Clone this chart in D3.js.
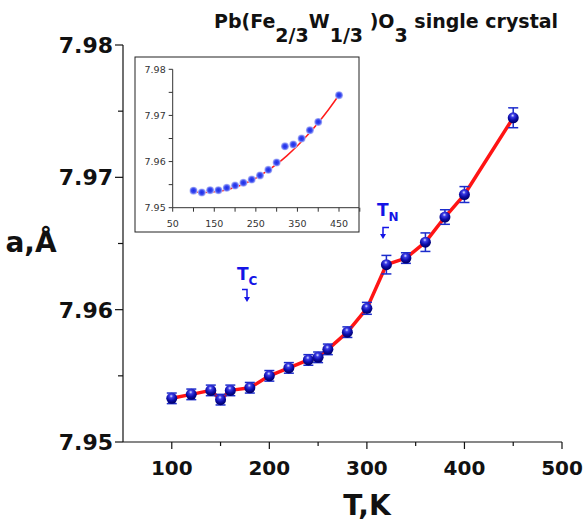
<!DOCTYPE html>
<html><head><meta charset="utf-8">
<script src="https://cdn.jsdelivr.net/npm/d3@7"></script>
<style>body{margin:0;background:#fff}svg{display:block}</style>
</head><body><svg id="chart" width="585" height="522"></svg>
<script>
// Lattice parameter a(T) of Pb(Fe2/3W1/3)O3 single crystal
const temps = [100,120,140,150,160,180,200,220,240,250,260,280,300,320,340,360,380,400,450];
const lattice = [7.9533,7.9536,7.9539,7.9532,7.9539,7.9541,7.9550,7.9556,7.9562,7.9564,7.9570,7.9583,7.9601,7.9634,7.9639,7.9651,7.9670,7.9687,7.9745];
const latticeErr = [0.0004,0.0004,0.0004,0.0004,0.0004,0.0004,0.0004,0.0004,0.0004,0.0004,0.0004,0.0004,0.00045,0.0007,0.0004,0.0007,0.00055,0.0006,0.00075];

// Inset: the same measurement with a smooth fit
const insetTemps = [100,120,140,160,180,200,220,240,260,280,300,320,340,360,380,400,450];
const insetLattice = [7.9537,7.9533,7.9538,7.9538,7.9543,7.9548,7.9554,7.9561,7.9570,7.9582,7.9598,7.9633,7.9637,7.9650,7.9668,7.9686,7.9744];
const fitTemps = [100,125,150,175,200,225,250,275,300,325,350,375,400,425,450];
const fitLattice = [7.95343,7.9533,7.95343,7.9538,7.95443,7.9553,7.95643,7.9578,7.95943,7.9613,7.96343,7.9658,7.96843,7.9713,7.97443];

const xTicks = [100,200,300,400,500];
const xMinorTicks = [150,250,350,450];
const yTicks = [7.95,7.96,7.97,7.98];
const yMinorTicks = [7.955,7.965,7.975];
const insetXTicks = [50,150,250,350,450];
const insetXMinorTicks = [100,200,300,400,500];
const insetYTicks = [7.95,7.96,7.97,7.98];
const insetYMinorTicks = [7.955,7.965,7.975];

const svg = d3.select("#chart");
const FONT = "'DejaVu Sans', Verdana, sans-serif";

const defs = svg.append("defs");
const g1 = defs.append("radialGradient").attr("id","ball").attr("cx","45%").attr("cy","30%").attr("r","65%");
g1.append("stop").attr("offset","0%").attr("stop-color","#dfe4ff");
g1.append("stop").attr("offset","25%").attr("stop-color","#3b3be6");
g1.append("stop").attr("offset","65%").attr("stop-color","#0c0ca6");
g1.append("stop").attr("offset","100%").attr("stop-color","#00006e");
const g2 = defs.append("radialGradient").attr("id","dot").attr("cx","50%").attr("cy","50%").attr("r","50%");
g2.append("stop").attr("offset","0%").attr("stop-color","#1a2ae6");
g2.append("stop").attr("offset","55%").attr("stop-color","#3a4af0");
g2.append("stop").attr("offset","100%").attr("stop-color","#b8bff8");

// ---- main plot ----
const x = d3.scaleLinear().domain([50,500]).range([123,562]);
const y = d3.scaleLinear().domain([7.95,7.98]).range([442,45]);

const axisColor = "#111";
// x axis
const xAxisG = svg.append("g").attr("transform",`translate(0,${y(7.95)})`);
xAxisG.append("line").attr("x1",x(50)).attr("x2",x(500)).attr("stroke",axisColor).attr("stroke-width",1.2);
xAxisG.selectAll(".xt").data(xTicks).join("line")
  .attr("x1",d=>x(d)).attr("x2",d=>x(d)).attr("y1",0).attr("y2",7).attr("stroke",axisColor).attr("stroke-width",1.2);
xAxisG.selectAll(".xm").data(xMinorTicks).join("line")
  .attr("x1",d=>x(d)).attr("x2",d=>x(d)).attr("y1",0).attr("y2",4).attr("stroke",axisColor).attr("stroke-width",1.2);
xAxisG.selectAll("text").data(xTicks).join("text")
  .attr("x",d=>x(d)).attr("y",33).attr("text-anchor","middle")
  .attr("font-family",FONT).attr("font-weight","bold").attr("font-size",20).attr("fill","#111")
  .text(d=>d);

// y axis
const yAxisG = svg.append("g").attr("transform",`translate(${x(50)},0)`);
yAxisG.append("line").attr("y1",y(7.95)).attr("y2",y(7.98)).attr("stroke",axisColor).attr("stroke-width",1.2);
yAxisG.selectAll(".yt").data(yTicks).join("line")
  .attr("y1",d=>y(d)).attr("y2",d=>y(d)).attr("x1",0).attr("x2",-8).attr("stroke",axisColor).attr("stroke-width",1.2);
yAxisG.selectAll(".ym").data(yMinorTicks).join("line")
  .attr("y1",d=>y(d)).attr("y2",d=>y(d)).attr("x1",0).attr("x2",-5).attr("stroke",axisColor).attr("stroke-width",1.2);
yAxisG.selectAll("text").data(yTicks).join("text")
  .attr("x",-10).attr("y",d=>y(d)+8).attr("text-anchor","end")
  .attr("font-family",FONT).attr("font-weight","bold").attr("font-size",22).attr("fill","#111")
  .text(d=>d.toFixed(2));

// axis titles
svg.append("text").attr("x",31).attr("y",252).attr("text-anchor","middle")
  .attr("font-family",FONT).attr("font-weight","bold").attr("font-size",28).attr("fill","#111").text("a,Å");
svg.append("text").attr("x",x(300)).attr("y",515).attr("text-anchor","middle")
  .attr("font-family",FONT).attr("font-weight","bold").attr("font-size",28).attr("fill","#111").text("T,K");

// title
const title = svg.append("text").attr("x",214).attr("y",28)
  .attr("font-family",FONT).attr("font-weight","bold").attr("font-size",19).attr("fill","#111");
title.append("tspan").text("Pb(Fe");
title.append("tspan").attr("dy",14).text("2/3");
title.append("tspan").attr("dy",-14).text("W");
title.append("tspan").attr("dy",14).text("1/3");
title.append("tspan").attr("dy",-14).text(" )O");
title.append("tspan").attr("dy",14).text("3");
title.append("tspan").attr("dy",-14).text(" single crystal");

const main = temps.map((t,i)=>({t, a:lattice[i], e:latticeErr[i]}));

// connecting line
svg.append("path").datum(main)
  .attr("d", d3.line().x(d=>x(d.t)).y(d=>y(d.a)))
  .attr("fill","none").attr("stroke","#ff1414").attr("stroke-width",3.5).attr("stroke-linejoin","round");

// error bars
const eb = svg.append("g").attr("stroke","#1c2ccc").attr("stroke-width",1.5);
eb.selectAll(".v").data(main).join("line")
  .attr("x1",d=>x(d.t)).attr("x2",d=>x(d.t)).attr("y1",d=>y(d.a-d.e)).attr("y2",d=>y(d.a+d.e));
eb.selectAll(".top").data(main).join("line")
  .attr("x1",d=>x(d.t)-5).attr("x2",d=>x(d.t)+5).attr("y1",d=>y(d.a+d.e)).attr("y2",d=>y(d.a+d.e));
eb.selectAll(".bot").data(main).join("line")
  .attr("x1",d=>x(d.t)-5).attr("x2",d=>x(d.t)+5).attr("y1",d=>y(d.a-d.e)).attr("y2",d=>y(d.a-d.e));

// points
svg.append("g").selectAll("circle").data(main).join("circle")
  .attr("cx",d=>x(d.t)).attr("cy",d=>y(d.a)).attr("r",5.5).attr("fill","url(#ball)");

// transition markers
const blue = "#1414e6";
function marker(label, sub, tx, ty, path, tipX, tipY){
  const t = svg.append("text").attr("x",tx).attr("y",ty)
    .attr("font-family",FONT).attr("font-weight","bold").attr("fill",blue);
  t.append("tspan").attr("font-size",17).text(label);
  t.append("tspan").attr("font-size",12).attr("dy",5).text(sub);
  svg.append("path").attr("d",path).attr("fill","none").attr("stroke",blue).attr("stroke-width",1.5);
  svg.append("path").attr("d",`M${tipX-3},${tipY-5} L${tipX+3},${tipY-5} L${tipX},${tipY} Z`).attr("fill",blue);
}
marker("T","C",237,280,"M242,289.5 H247 V297",247,302);
marker("T","N",377,216,"M389,227.5 H383 V234",383,239);

// ---- inset ----
const box = {x0:135, y0:57, x1:359, y1:232};
svg.append("rect").attr("x",box.x0).attr("y",box.y0).attr("width",box.x1-box.x0).attr("height",box.y1-box.y0)
  .attr("fill","#fff").attr("stroke","#222").attr("stroke-width",1);

const ix = d3.scaleLinear().domain([50,500]).range([172.7,359.8]);
const iy = d3.scaleLinear().domain([7.95,7.98]).range([207.7,69.3]);
const ins = svg.append("g");
const iax = "#333";
ins.append("line").attr("x1",ix(50)).attr("x2",box.x1).attr("y1",iy(7.95)).attr("y2",iy(7.95)).attr("stroke",iax);
ins.append("line").attr("x1",ix(50)).attr("x2",ix(50)).attr("y1",iy(7.95)).attr("y2",iy(7.98)).attr("stroke",iax);
ins.selectAll(".ixt").data(insetXTicks.concat(insetXMinorTicks)).join("line")
  .attr("x1",d=>ix(d)).attr("x2",d=>ix(d)).attr("y1",iy(7.95)).attr("y2",iy(7.95)+4).attr("stroke",iax);
ins.selectAll(".iyt").data(insetYTicks.concat(insetYMinorTicks)).join("line")
  .attr("x1",ix(50)-4).attr("x2",ix(50)).attr("y1",d=>iy(d)).attr("y2",d=>iy(d)).attr("stroke",iax);
ins.selectAll(".ixl").data(insetXTicks).join("text")
  .attr("x",d=>ix(d)).attr("y",iy(7.95)+19).attr("text-anchor","middle")
  .attr("font-family",FONT).attr("font-size",9.5).attr("fill","#333").text(d=>d);
ins.selectAll(".iyl").data(insetYTicks).join("text")
  .attr("x",ix(50)-7).attr("y",d=>iy(d)+3.5).attr("text-anchor","end")
  .attr("font-family",FONT).attr("font-size",9.5).attr("fill","#333").text(d=>d.toFixed(2));

const fit = fitTemps.map((t,i)=>({t,a:fitLattice[i]}));
ins.append("path").datum(fit)
  .attr("d",d3.line().x(d=>ix(d.t)).y(d=>iy(d.a)).curve(d3.curveCatmullRom))
  .attr("fill","none").attr("stroke","#ff1a1a").attr("stroke-width",1.5);

const insetPts = insetTemps.map((t,i)=>({t,a:insetLattice[i]}));
ins.selectAll("circle").data(insetPts).join("circle")
  .attr("cx",d=>ix(d.t)).attr("cy",d=>iy(d.a)).attr("r",4).attr("fill","url(#dot)");
</script></body></html>
